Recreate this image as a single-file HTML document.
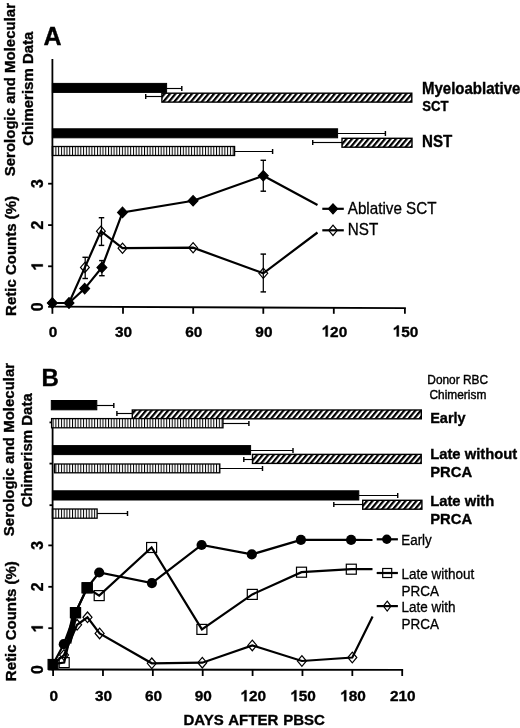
<!DOCTYPE html>
<html><head><meta charset="utf-8"><title>Figure</title>
<style>
html,body{margin:0;padding:0;background:#fff;}
body{width:520px;height:728px;overflow:hidden;}
svg{display:block;font-family:"Liberation Sans", sans-serif;will-change:transform;}
</style></head><body>
<svg width="520" height="728" viewBox="0 0 520 728" fill="#000">
<defs>
<pattern id="diag" patternUnits="userSpaceOnUse" width="4.21" height="10" patternTransform="rotate(40)"><rect width="4.21" height="10" fill="#fff"/><rect width="2.2" height="10" fill="#000"/></pattern>
<pattern id="vert" patternUnits="userSpaceOnUse" width="2.77" height="10"><rect width="2.77" height="10" fill="#fff"/><rect x="0" width="1.0" height="10" fill="#000"/></pattern>
</defs>
<text x="43.50" y="45.40" font-size="25" font-weight="bold" text-anchor="start" stroke="#000" stroke-width="0.35" >A</text>
<text x="14.80" y="89.60" font-size="15" font-weight="bold" text-anchor="middle" stroke="#000" stroke-width="0.35" transform="rotate(-90 14.80 89.60) translate(14.80 89.60) scale(1 1.03) translate(-14.80 -89.60)" >Serologic and Molecular</text>
<text x="32.90" y="88.70" font-size="15" font-weight="bold" text-anchor="middle" stroke="#000" stroke-width="0.35" transform="rotate(-90 32.90 88.70) translate(32.90 88.70) scale(1 1.03) translate(-32.90 -88.70)" >Chimerism Data</text>
<text x="16.00" y="255.90" font-size="15" font-weight="bold" text-anchor="middle" stroke="#000" stroke-width="0.35" transform="rotate(-90 16.00 255.90)" >Retic Counts (%)</text>
<line x1="52.40" y1="59.00" x2="52.40" y2="307.50" stroke="#000" stroke-width="1.8" />
<line x1="51.50" y1="306.60" x2="405.90" y2="308.20" stroke="#000" stroke-width="1.8" />
<line x1="52.40" y1="306.60" x2="52.40" y2="313.80" stroke="#000" stroke-width="1.8" />
<text x="53.00" y="336.50" font-size="15.4" font-weight="bold" text-anchor="middle" stroke="#000" stroke-width="0.35" >0</text>
<line x1="123.00" y1="306.92" x2="123.00" y2="313.80" stroke="#000" stroke-width="1.8" />
<text x="123.60" y="336.50" font-size="15.4" font-weight="bold" text-anchor="middle" stroke="#000" stroke-width="0.35" >30</text>
<line x1="193.20" y1="307.24" x2="193.20" y2="313.80" stroke="#000" stroke-width="1.8" />
<text x="193.80" y="336.50" font-size="15.4" font-weight="bold" text-anchor="middle" stroke="#000" stroke-width="0.35" >60</text>
<line x1="263.30" y1="307.55" x2="263.30" y2="313.80" stroke="#000" stroke-width="1.8" />
<text x="263.90" y="336.50" font-size="15.4" font-weight="bold" text-anchor="middle" stroke="#000" stroke-width="0.35" >90</text>
<line x1="333.80" y1="307.87" x2="333.80" y2="313.80" stroke="#000" stroke-width="1.8" />
<path d="M402 0H262V528Q185 456 81 422V549Q136 567 200 617Q263 666 287 716H402Z" transform="translate(321.56 336.50) scale(0.01540 -0.01540)" fill="#000" stroke="#000" stroke-width="22.7"/>
<text x="330.12" y="336.50" font-size="15.4" font-weight="bold" text-anchor="start" stroke="#000" stroke-width="0.35" >20</text>
<line x1="404.90" y1="308.19" x2="404.90" y2="313.80" stroke="#000" stroke-width="1.8" />
<path d="M402 0H262V528Q185 456 81 422V549Q136 567 200 617Q263 666 287 716H402Z" transform="translate(392.66 336.50) scale(0.01540 -0.01540)" fill="#000" stroke="#000" stroke-width="22.7"/>
<text x="401.22" y="336.50" font-size="15.4" font-weight="bold" text-anchor="start" stroke="#000" stroke-width="0.35" >50</text>
<line x1="48.10" y1="306.80" x2="52.40" y2="306.80" stroke="#000" stroke-width="1.8" />
<text x="42.80" y="306.80" font-size="15.8" font-weight="bold" text-anchor="middle" stroke="#000" stroke-width="0.35" transform="rotate(-90 42.80 306.80)" >0</text>
<line x1="48.10" y1="266.30" x2="52.40" y2="266.30" stroke="#000" stroke-width="1.8" />
<path d="M402 0H262V528Q185 456 81 422V549Q136 567 200 617Q263 666 287 716H402Z" transform="rotate(-90 42.80 266.30) translate(38.41 266.30) scale(0.01580 -0.01580)" fill="#000" stroke="#000" stroke-width="22.2"/>
<line x1="48.10" y1="225.10" x2="52.40" y2="225.10" stroke="#000" stroke-width="1.8" />
<text x="42.80" y="225.10" font-size="15.8" font-weight="bold" text-anchor="middle" stroke="#000" stroke-width="0.35" transform="rotate(-90 42.80 225.10)" >2</text>
<line x1="48.10" y1="183.70" x2="52.40" y2="183.70" stroke="#000" stroke-width="1.8" />
<text x="42.80" y="183.70" font-size="15.8" font-weight="bold" text-anchor="middle" stroke="#000" stroke-width="0.35" transform="rotate(-90 42.80 183.70)" >3</text>
<line x1="166.60" y1="88.50" x2="181.80" y2="88.50" stroke="#000" stroke-width="1.15" />
<line x1="181.80" y1="86.00" x2="181.80" y2="91.00" stroke="#000" stroke-width="1.45" />
<rect x="52.40" y="83.40" width="114.20" height="9.00" fill="#000" stroke="#000" stroke-width="1.0"/>
<line x1="161.90" y1="96.50" x2="145.70" y2="96.50" stroke="#000" stroke-width="1.15" />
<line x1="145.70" y1="94.00" x2="145.70" y2="99.00" stroke="#000" stroke-width="1.45" />
<rect x="161.90" y="93.20" width="249.90" height="8.90" fill="url(#diag)" stroke="#000" stroke-width="1.4"/>
<line x1="337.60" y1="133.50" x2="385.40" y2="133.50" stroke="#000" stroke-width="1.15" />
<line x1="385.40" y1="131.00" x2="385.40" y2="136.00" stroke="#000" stroke-width="1.45" />
<rect x="52.40" y="128.80" width="285.20" height="9.00" fill="#000" stroke="#000" stroke-width="1.0"/>
<line x1="342.00" y1="142.50" x2="312.70" y2="142.50" stroke="#000" stroke-width="1.15" />
<line x1="312.70" y1="140.00" x2="312.70" y2="145.00" stroke="#000" stroke-width="1.45" />
<rect x="342.00" y="138.30" width="70.00" height="8.90" fill="url(#diag)" stroke="#000" stroke-width="1.4"/>
<line x1="234.60" y1="151.50" x2="272.60" y2="151.50" stroke="#000" stroke-width="1.15" />
<line x1="272.60" y1="149.00" x2="272.60" y2="154.00" stroke="#000" stroke-width="1.45" />
<rect x="52.40" y="146.50" width="182.20" height="9.00" fill="url(#vert)" stroke="#000" stroke-width="1.3"/>
<text x="422.00" y="94.50" font-size="15" font-weight="bold" text-anchor="start" stroke="#000" stroke-width="0.35" transform="translate(422.00 94.50) scale(1 1.04) translate(-422.00 -94.50)" >Myeloablative</text>
<text x="422.30" y="110.80" font-size="13.1" font-weight="bold" text-anchor="start" stroke="#000" stroke-width="0.35" transform="translate(422.30 110.80) scale(1 1.05) translate(-422.30 -110.80)" >SCT</text>
<text x="422.00" y="147.00" font-size="15.1" font-weight="bold" text-anchor="start" stroke="#000" stroke-width="0.35" transform="translate(422.00 147.00) scale(1 1.06) translate(-422.00 -147.00)" >NST</text>
<polyline points="52.30,303.00 69.00,303.00 84.90,267.40 100.90,231.20 122.50,248.20 193.10,247.70 263.30,273.30 317.50,232.50" fill="none" stroke="#000" stroke-width="2.2" stroke-linejoin="miter"/>
<polyline points="52.30,303.00 69.00,303.00 84.70,288.60 101.90,267.50 122.50,212.40 193.10,200.80 263.30,175.80 317.50,205.00" fill="none" stroke="#000" stroke-width="2.2" stroke-linejoin="miter"/>
<polygon points="52.30,297.90 56.70,303.00 52.30,308.10 47.90,303.00" fill="none" stroke="#000" stroke-width="1.2"/>
<polygon points="69.00,297.90 73.40,303.00 69.00,308.10 64.60,303.00" fill="none" stroke="#000" stroke-width="1.2"/>
<polygon points="84.90,262.30 89.30,267.40 84.90,272.50 80.50,267.40" fill="none" stroke="#000" stroke-width="1.2"/>
<polygon points="100.90,226.10 105.30,231.20 100.90,236.30 96.50,231.20" fill="none" stroke="#000" stroke-width="1.2"/>
<polygon points="122.50,243.10 126.90,248.20 122.50,253.30 118.10,248.20" fill="none" stroke="#000" stroke-width="1.2"/>
<polygon points="193.10,242.60 197.50,247.70 193.10,252.80 188.70,247.70" fill="none" stroke="#000" stroke-width="1.2"/>
<polygon points="263.30,268.20 267.70,273.30 263.30,278.40 258.90,273.30" fill="none" stroke="#000" stroke-width="1.2"/>
<polygon points="52.30,297.80 57.20,303.00 52.30,308.20 47.40,303.00" fill="#000" stroke="#000" stroke-width="1.2"/>
<polygon points="69.00,297.80 73.90,303.00 69.00,308.20 64.10,303.00" fill="#000" stroke="#000" stroke-width="1.2"/>
<polygon points="84.70,283.40 89.60,288.60 84.70,293.80 79.80,288.60" fill="#000" stroke="#000" stroke-width="1.2"/>
<polygon points="101.90,262.30 106.80,267.50 101.90,272.70 97.00,267.50" fill="#000" stroke="#000" stroke-width="1.2"/>
<polygon points="122.50,207.20 127.40,212.40 122.50,217.60 117.60,212.40" fill="#000" stroke="#000" stroke-width="1.2"/>
<polygon points="193.10,195.60 198.00,200.80 193.10,206.00 188.20,200.80" fill="#000" stroke="#000" stroke-width="1.2"/>
<polygon points="263.30,170.60 268.20,175.80 263.30,181.00 258.40,175.80" fill="#000" stroke="#000" stroke-width="1.2"/>
<line x1="85.20" y1="257.30" x2="85.20" y2="278.50" stroke="#000" stroke-width="1.25" />
<line x1="82.45" y1="257.30" x2="87.95" y2="257.30" stroke="#000" stroke-width="1.45" />
<line x1="82.45" y1="278.50" x2="87.95" y2="278.50" stroke="#000" stroke-width="1.45" />
<line x1="101.50" y1="217.70" x2="101.50" y2="245.40" stroke="#000" stroke-width="1.25" />
<line x1="98.75" y1="217.70" x2="104.25" y2="217.70" stroke="#000" stroke-width="1.45" />
<line x1="98.75" y1="245.40" x2="104.25" y2="245.40" stroke="#000" stroke-width="1.45" />
<line x1="101.90" y1="260.60" x2="101.90" y2="275.70" stroke="#000" stroke-width="1.25" />
<line x1="99.15" y1="260.60" x2="104.65" y2="260.60" stroke="#000" stroke-width="1.45" />
<line x1="99.15" y1="275.70" x2="104.65" y2="275.70" stroke="#000" stroke-width="1.45" />
<line x1="263.30" y1="160.30" x2="263.30" y2="191.20" stroke="#000" stroke-width="1.25" />
<line x1="260.55" y1="160.30" x2="266.05" y2="160.30" stroke="#000" stroke-width="1.45" />
<line x1="260.55" y1="191.20" x2="266.05" y2="191.20" stroke="#000" stroke-width="1.45" />
<line x1="263.30" y1="254.10" x2="263.30" y2="291.90" stroke="#000" stroke-width="1.25" />
<line x1="260.55" y1="254.10" x2="266.05" y2="254.10" stroke="#000" stroke-width="1.45" />
<line x1="260.55" y1="291.90" x2="266.05" y2="291.90" stroke="#000" stroke-width="1.45" />
<line x1="322.30" y1="208.80" x2="343.80" y2="208.80" stroke="#000" stroke-width="2.2" />
<polygon points="333.00,203.80 337.60,208.80 333.00,213.80 328.40,208.80" fill="#000" stroke="#000" stroke-width="1.2"/>
<line x1="322.30" y1="230.30" x2="343.80" y2="230.30" stroke="#000" stroke-width="2.2" />
<polygon points="333.00,225.10 337.30,230.30 333.00,235.50 328.70,230.30" fill="none" stroke="#000" stroke-width="1.2"/>
<text x="347.80" y="214.40" font-size="15.2" font-weight="normal" text-anchor="start" stroke="#000" stroke-width="0.3" transform="translate(347.80 214.40) scale(1 1.06) translate(-347.80 -214.40)" >Ablative SCT</text>
<text x="347.80" y="234.70" font-size="15.2" font-weight="normal" text-anchor="start" stroke="#000" stroke-width="0.3" transform="translate(347.80 234.70) scale(1 1.06) translate(-347.80 -234.70)" >NST</text>
<text x="41.60" y="386.00" font-size="24" font-weight="bold" text-anchor="start" stroke="#000" stroke-width="0.35" >B</text>
<text x="13.90" y="449.50" font-size="15" font-weight="bold" text-anchor="middle" stroke="#000" stroke-width="0.35" transform="rotate(-90 13.90 449.50) translate(13.90 449.50) scale(1 1.03) translate(-13.90 -449.50)" >Serologic and Molecular</text>
<text x="31.80" y="450.30" font-size="15" font-weight="bold" text-anchor="middle" stroke="#000" stroke-width="0.35" transform="rotate(-90 31.80 450.30) translate(31.80 450.30) scale(1 1.03) translate(-31.80 -450.30)" >Chimerism Data</text>
<text x="16.50" y="621.20" font-size="15" font-weight="bold" text-anchor="middle" stroke="#000" stroke-width="0.35" transform="rotate(-90 16.50 621.20)" >Retic Counts (%)</text>
<line x1="52.60" y1="421.00" x2="52.60" y2="670.30" stroke="#000" stroke-width="1.8" />
<line x1="51.70" y1="669.50" x2="403.10" y2="669.90" stroke="#000" stroke-width="1.8" />
<line x1="53.10" y1="669.60" x2="53.10" y2="676.00" stroke="#000" stroke-width="1.8" />
<text x="53.70" y="701.20" font-size="15.4" font-weight="bold" text-anchor="middle" stroke="#000" stroke-width="0.35" >0</text>
<line x1="102.97" y1="669.60" x2="102.97" y2="676.00" stroke="#000" stroke-width="1.8" />
<text x="103.57" y="701.20" font-size="15.4" font-weight="bold" text-anchor="middle" stroke="#000" stroke-width="0.35" >30</text>
<line x1="152.84" y1="669.60" x2="152.84" y2="676.00" stroke="#000" stroke-width="1.8" />
<text x="153.44" y="701.20" font-size="15.4" font-weight="bold" text-anchor="middle" stroke="#000" stroke-width="0.35" >60</text>
<line x1="202.71" y1="669.60" x2="202.71" y2="676.00" stroke="#000" stroke-width="1.8" />
<text x="203.31" y="701.20" font-size="15.4" font-weight="bold" text-anchor="middle" stroke="#000" stroke-width="0.35" >90</text>
<line x1="252.59" y1="669.60" x2="252.59" y2="676.00" stroke="#000" stroke-width="1.8" />
<path d="M402 0H262V528Q185 456 81 422V549Q136 567 200 617Q263 666 287 716H402Z" transform="translate(240.34 701.20) scale(0.01540 -0.01540)" fill="#000" stroke="#000" stroke-width="22.7"/>
<text x="248.90" y="701.20" font-size="15.4" font-weight="bold" text-anchor="start" stroke="#000" stroke-width="0.35" >20</text>
<line x1="302.46" y1="669.60" x2="302.46" y2="676.00" stroke="#000" stroke-width="1.8" />
<path d="M402 0H262V528Q185 456 81 422V549Q136 567 200 617Q263 666 287 716H402Z" transform="translate(290.21 701.20) scale(0.01540 -0.01540)" fill="#000" stroke="#000" stroke-width="22.7"/>
<text x="298.78" y="701.20" font-size="15.4" font-weight="bold" text-anchor="start" stroke="#000" stroke-width="0.35" >50</text>
<line x1="352.33" y1="669.60" x2="352.33" y2="676.00" stroke="#000" stroke-width="1.8" />
<path d="M402 0H262V528Q185 456 81 422V549Q136 567 200 617Q263 666 287 716H402Z" transform="translate(340.08 701.20) scale(0.01540 -0.01540)" fill="#000" stroke="#000" stroke-width="22.7"/>
<text x="348.65" y="701.20" font-size="15.4" font-weight="bold" text-anchor="start" stroke="#000" stroke-width="0.35" >80</text>
<line x1="402.20" y1="669.60" x2="402.20" y2="676.00" stroke="#000" stroke-width="1.8" />
<text x="402.80" y="701.20" font-size="15.4" font-weight="bold" text-anchor="middle" stroke="#000" stroke-width="0.35" >210</text>
<line x1="48.30" y1="669.60" x2="52.60" y2="669.60" stroke="#000" stroke-width="1.8" />
<text x="42.80" y="669.60" font-size="15.8" font-weight="bold" text-anchor="middle" stroke="#000" stroke-width="0.35" transform="rotate(-90 42.80 669.60)" >0</text>
<line x1="48.30" y1="628.20" x2="52.60" y2="628.20" stroke="#000" stroke-width="1.8" />
<path d="M402 0H262V528Q185 456 81 422V549Q136 567 200 617Q263 666 287 716H402Z" transform="rotate(-90 42.80 628.20) translate(38.41 628.20) scale(0.01580 -0.01580)" fill="#000" stroke="#000" stroke-width="22.2"/>
<line x1="48.30" y1="586.80" x2="52.60" y2="586.80" stroke="#000" stroke-width="1.8" />
<text x="42.80" y="586.80" font-size="15.8" font-weight="bold" text-anchor="middle" stroke="#000" stroke-width="0.35" transform="rotate(-90 42.80 586.80)" >2</text>
<line x1="48.30" y1="545.40" x2="52.60" y2="545.40" stroke="#000" stroke-width="1.8" />
<text x="42.80" y="545.40" font-size="15.8" font-weight="bold" text-anchor="middle" stroke="#000" stroke-width="0.35" transform="rotate(-90 42.80 545.40)" >3</text>
<line x1="49.50" y1="422.40" x2="52.60" y2="422.40" stroke="#000" stroke-width="1.8" />
<line x1="49.50" y1="463.60" x2="52.60" y2="463.60" stroke="#000" stroke-width="1.8" />
<line x1="49.50" y1="505.20" x2="52.60" y2="505.20" stroke="#000" stroke-width="1.8" />
<line x1="96.80" y1="405.50" x2="113.80" y2="405.50" stroke="#000" stroke-width="1.15" />
<line x1="113.80" y1="403.00" x2="113.80" y2="408.00" stroke="#000" stroke-width="1.45" />
<rect x="51.30" y="400.50" width="45.50" height="9.30" fill="#000" stroke="#000" stroke-width="1.0"/>
<line x1="132.30" y1="413.50" x2="116.90" y2="413.50" stroke="#000" stroke-width="1.15" />
<line x1="116.90" y1="411.00" x2="116.90" y2="416.00" stroke="#000" stroke-width="1.45" />
<rect x="132.30" y="410.00" width="289.00" height="8.80" fill="url(#diag)" stroke="#000" stroke-width="1.4"/>
<line x1="223.00" y1="423.50" x2="248.90" y2="423.50" stroke="#000" stroke-width="1.15" />
<line x1="248.90" y1="421.00" x2="248.90" y2="426.00" stroke="#000" stroke-width="1.45" />
<rect x="51.60" y="418.60" width="171.40" height="9.20" fill="url(#vert)" stroke="#000" stroke-width="1.3"/>
<line x1="250.60" y1="450.50" x2="293.00" y2="450.50" stroke="#000" stroke-width="1.15" />
<line x1="293.00" y1="448.00" x2="293.00" y2="453.00" stroke="#000" stroke-width="1.45" />
<rect x="52.40" y="445.60" width="198.20" height="9.00" fill="#000" stroke="#000" stroke-width="1.0"/>
<line x1="252.50" y1="459.50" x2="243.80" y2="459.50" stroke="#000" stroke-width="1.15" />
<line x1="243.80" y1="457.00" x2="243.80" y2="462.00" stroke="#000" stroke-width="1.45" />
<rect x="252.50" y="454.40" width="168.70" height="9.00" fill="url(#diag)" stroke="#000" stroke-width="1.4"/>
<line x1="219.80" y1="468.50" x2="262.50" y2="468.50" stroke="#000" stroke-width="1.15" />
<line x1="262.50" y1="466.00" x2="262.50" y2="471.00" stroke="#000" stroke-width="1.45" />
<rect x="54.50" y="464.00" width="165.30" height="8.80" fill="url(#vert)" stroke="#000" stroke-width="1.3"/>
<line x1="358.80" y1="495.50" x2="397.70" y2="495.50" stroke="#000" stroke-width="1.15" />
<line x1="397.70" y1="493.00" x2="397.70" y2="498.00" stroke="#000" stroke-width="1.45" />
<rect x="52.40" y="490.80" width="306.40" height="9.20" fill="#000" stroke="#000" stroke-width="1.0"/>
<line x1="362.70" y1="504.50" x2="333.80" y2="504.50" stroke="#000" stroke-width="1.15" />
<line x1="333.80" y1="502.00" x2="333.80" y2="507.00" stroke="#000" stroke-width="1.45" />
<rect x="362.70" y="500.30" width="59.20" height="8.90" fill="url(#diag)" stroke="#000" stroke-width="1.4"/>
<line x1="97.10" y1="513.50" x2="127.50" y2="513.50" stroke="#000" stroke-width="1.15" />
<line x1="127.50" y1="511.00" x2="127.50" y2="516.00" stroke="#000" stroke-width="1.45" />
<rect x="52.40" y="509.00" width="44.70" height="9.20" fill="url(#vert)" stroke="#000" stroke-width="1.3"/>
<text x="457.70" y="384.40" font-size="11.9" font-weight="normal" text-anchor="middle" stroke="#000" stroke-width="0.4" transform="translate(457.70 384.40) scale(1 1.05) translate(-457.70 -384.40)" >Donor RBC</text>
<text x="457.90" y="398.90" font-size="11.9" font-weight="normal" text-anchor="middle" stroke="#000" stroke-width="0.4" transform="translate(457.90 398.90) scale(1 1.05) translate(-457.90 -398.90)" >Chimerism</text>
<text x="430.20" y="423.10" font-size="14.5" font-weight="bold" text-anchor="start" stroke="#000" stroke-width="0.35" transform="translate(430.20 423.10) scale(1 1.04) translate(-430.20 -423.10)" >Early</text>
<text x="430.20" y="459.00" font-size="14.8" font-weight="bold" text-anchor="start" stroke="#000" stroke-width="0.35" transform="translate(430.20 459.00) scale(1 1.04) translate(-430.20 -459.00)" >Late without</text>
<text x="430.20" y="476.90" font-size="14.8" font-weight="bold" text-anchor="start" stroke="#000" stroke-width="0.35" transform="translate(430.20 476.90) scale(1 1.04) translate(-430.20 -476.90)" >PRCA</text>
<text x="430.20" y="506.20" font-size="14.8" font-weight="bold" text-anchor="start" stroke="#000" stroke-width="0.35" transform="translate(430.20 506.20) scale(1 1.04) translate(-430.20 -506.20)" >Late with</text>
<text x="430.20" y="524.00" font-size="14.8" font-weight="bold" text-anchor="start" stroke="#000" stroke-width="0.35" transform="translate(430.20 524.00) scale(1 1.04) translate(-430.20 -524.00)" >PRCA</text>
<polyline points="53.00,664.20 64.00,655.00 77.10,624.80 87.50,617.30 99.60,633.40 151.80,663.30 202.30,662.70 252.30,645.40 301.90,661.00 352.30,657.50 372.60,616.60" fill="none" stroke="#000" stroke-width="2.2" stroke-linejoin="miter"/>
<polyline points="53.00,664.20 64.20,662.60 75.50,612.70 87.20,587.80 99.20,595.60 151.60,547.50 201.90,629.40 252.30,594.40 301.50,572.20 351.30,569.20 372.50,569.20" fill="none" stroke="#000" stroke-width="2.2" stroke-linejoin="miter"/>
<polyline points="53.00,664.20 63.80,644.20 75.50,612.70 87.20,587.80 99.20,572.50 151.90,583.10 201.60,545.00 251.80,554.40 300.90,539.90 351.10,539.90 372.50,540.00" fill="none" stroke="#000" stroke-width="2.2" stroke-linejoin="miter"/>
<polygon points="64.00,649.70 68.50,655.00 64.00,660.30 59.50,655.00" fill="none" stroke="#000" stroke-width="1.2"/>
<polygon points="77.10,619.50 81.60,624.80 77.10,630.10 72.60,624.80" fill="none" stroke="#000" stroke-width="1.2"/>
<polygon points="87.50,612.00 92.00,617.30 87.50,622.60 83.00,617.30" fill="none" stroke="#000" stroke-width="1.2"/>
<polygon points="99.60,628.10 104.10,633.40 99.60,638.70 95.10,633.40" fill="none" stroke="#000" stroke-width="1.2"/>
<polygon points="151.80,658.00 156.30,663.30 151.80,668.60 147.30,663.30" fill="none" stroke="#000" stroke-width="1.2"/>
<polygon points="202.30,657.40 206.80,662.70 202.30,668.00 197.80,662.70" fill="none" stroke="#000" stroke-width="1.2"/>
<polygon points="252.30,640.10 256.80,645.40 252.30,650.70 247.80,645.40" fill="none" stroke="#000" stroke-width="1.2"/>
<polygon points="301.90,655.70 306.40,661.00 301.90,666.30 297.40,661.00" fill="none" stroke="#000" stroke-width="1.2"/>
<polygon points="352.30,652.20 356.80,657.50 352.30,662.80 347.80,657.50" fill="none" stroke="#000" stroke-width="1.2"/>
<rect x="59.20" y="657.60" width="10.00" height="10.00" fill="none" stroke="#000" stroke-width="1.2"/>
<rect x="70.50" y="607.70" width="10.00" height="10.00" fill="none" stroke="#000" stroke-width="1.2"/>
<rect x="82.20" y="582.80" width="10.00" height="10.00" fill="none" stroke="#000" stroke-width="1.2"/>
<rect x="94.20" y="590.60" width="10.00" height="10.00" fill="none" stroke="#000" stroke-width="1.2"/>
<rect x="146.60" y="542.50" width="10.00" height="10.00" fill="none" stroke="#000" stroke-width="1.2"/>
<rect x="196.90" y="624.40" width="10.00" height="10.00" fill="none" stroke="#000" stroke-width="1.2"/>
<rect x="247.30" y="589.40" width="10.00" height="10.00" fill="none" stroke="#000" stroke-width="1.2"/>
<rect x="296.50" y="567.20" width="10.00" height="10.00" fill="none" stroke="#000" stroke-width="1.2"/>
<rect x="346.30" y="564.20" width="10.00" height="10.00" fill="none" stroke="#000" stroke-width="1.2"/>
<circle cx="63.80" cy="644.20" r="5.10" fill="#000"/>
<rect x="70.50" y="607.70" width="10.00" height="10.00" fill="#000" stroke="#000" stroke-width="1.2"/>
<rect x="82.20" y="582.80" width="10.00" height="10.00" fill="#000" stroke="#000" stroke-width="1.2"/>
<circle cx="99.20" cy="572.50" r="5.10" fill="#000"/>
<circle cx="151.90" cy="583.10" r="5.10" fill="#000"/>
<circle cx="201.60" cy="545.00" r="5.10" fill="#000"/>
<circle cx="251.80" cy="554.40" r="5.10" fill="#000"/>
<circle cx="300.90" cy="539.90" r="5.10" fill="#000"/>
<circle cx="351.10" cy="539.90" r="5.10" fill="#000"/>
<rect x="48.10" y="659.50" width="9.80" height="9.80" fill="#000" stroke="#000" stroke-width="1.2"/>
<polygon points="66.0,641 71.0,618 76.6,618 74.8,629 71.2,644" fill="#000"/>
<line x1="376.70" y1="539.30" x2="397.90" y2="539.30" stroke="#000" stroke-width="2.2" />
<circle cx="386.80" cy="539.30" r="4.70" fill="#000"/>
<line x1="376.70" y1="573.00" x2="397.90" y2="573.00" stroke="#000" stroke-width="2.2" />
<rect x="382.70" y="568.50" width="9.00" height="9.00" fill="none" stroke="#000" stroke-width="1.2"/>
<line x1="376.70" y1="606.10" x2="397.90" y2="606.10" stroke="#000" stroke-width="2.2" />
<polygon points="387.20,601.20 391.00,606.10 387.20,611.00 383.40,606.10" fill="none" stroke="#000" stroke-width="1.2"/>
<text x="401.30" y="545.00" font-size="13.4" font-weight="normal" text-anchor="start" stroke="#000" stroke-width="0.3" transform="translate(401.30 545.00) scale(1 1.05) translate(-401.30 -545.00)" >Early</text>
<text x="401.50" y="579.20" font-size="13.5" font-weight="normal" text-anchor="start" stroke="#000" stroke-width="0.3" transform="translate(401.50 579.20) scale(1 1.05) translate(-401.50 -579.20)" >Late without</text>
<text x="401.50" y="595.80" font-size="13.5" font-weight="normal" text-anchor="start" stroke="#000" stroke-width="0.3" transform="translate(401.50 595.80) scale(1 1.05) translate(-401.50 -595.80)" >PRCA</text>
<text x="401.50" y="611.80" font-size="13.5" font-weight="normal" text-anchor="start" stroke="#000" stroke-width="0.3" transform="translate(401.50 611.80) scale(1 1.05) translate(-401.50 -611.80)" >Late with</text>
<text x="401.50" y="628.60" font-size="13.5" font-weight="normal" text-anchor="start" stroke="#000" stroke-width="0.3" transform="translate(401.50 628.60) scale(1 1.05) translate(-401.50 -628.60)" >PRCA</text>
<text x="254.20" y="725.00" font-size="15" font-weight="bold" text-anchor="middle" stroke="#000" stroke-width="0.35" word-spacing="0.8">DAYS AFTER PBSC</text>
</svg>
</body></html>
